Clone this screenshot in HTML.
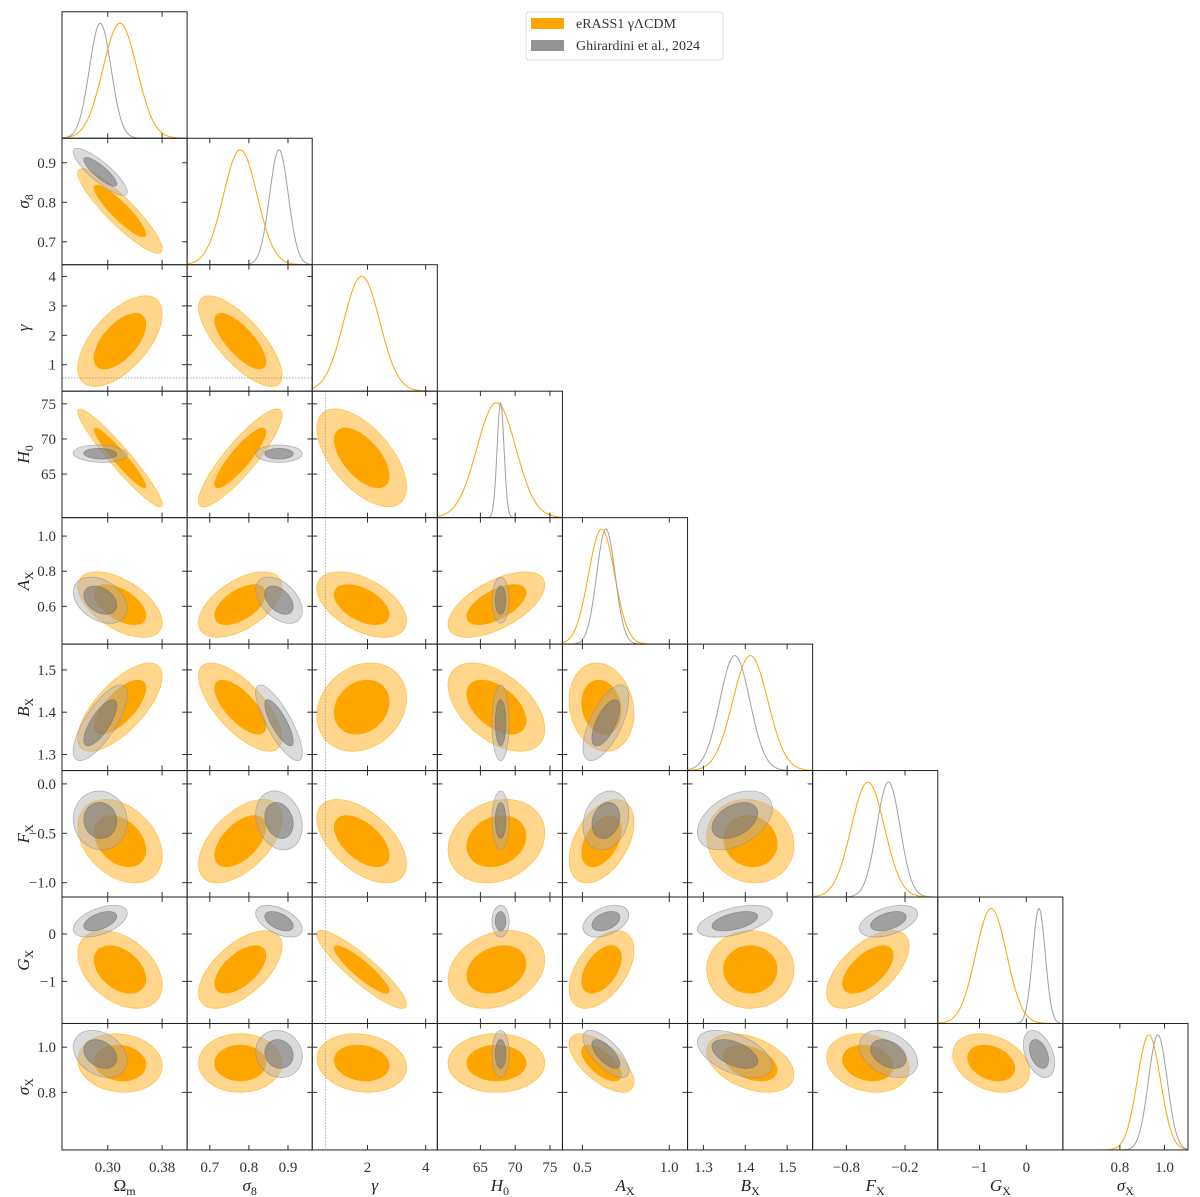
<!DOCTYPE html>
<html><head><meta charset="utf-8"><style>
html,body{margin:0;padding:0;background:#fff;}
svg{display:block;font-family:"Liberation Serif","DejaVu Serif",serif;}
</style></head><body>
<svg id="chart" width="1200" height="1197" viewBox="0 0 1200 1197" xmlns="http://www.w3.org/2000/svg"></svg>
<script>
const paramNames = ['Om','s8','gamma','H0','AX','BX','FX','GX','sX'];
const rangeMin = [0.2327, 0.642, 0.1, 58.8, 0.385, 1.262, -1.145, -1.89, 0.545];
const rangeMax = [0.4168, 0.962, 4.4, 76.8, 1.105, 1.561, 0.135, 0.78, 1.105];
const meanOrange = [0.318, 0.778, 1.8, 67.3, 0.61, 1.412, -0.58, -0.75, 0.93];
const sdOrange = [0.025, 0.043, 0.62, 2.8, 0.075, 0.042, 0.17, 0.33, 0.052];
const meanGray = [0.289, 0.877, null, 67.9, 0.635, 1.375, -0.37, 0.27, 0.97];
const sdGray = [0.016, 0.024, null, 0.5, 0.053, 0.036, 0.12, 0.135, 0.042];
const corrOrange = [[],[-0.9],[0.6,-0.75],[-0.95,0.88,-0.6],[-0.55,0.55,-0.5,0.6],[0.7,-0.7,0.2,-0.5,-0.15],[-0.35,0.55,-0.55,0.2,0.45,-0.1],[-0.4,0.6,-0.9,0.25,0.5,0.0,0.6],[-0.1,0.0,-0.15,0.0,-0.65,-0.4,-0.2,-0.3]];
const corrGray = [[],[-0.85],[null,null],[-0.1,0.0,null],[-0.35,-0.45,null,0.0],[0.75,-0.8,null,0.0,0.65],[-0.05,-0.2,null,0.0,0.2,0.4],[0.5,-0.5,null,0.0,0.4,0.5,0.45],[-0.3,-0.1,null,0.0,-0.7,-0.5,-0.35,-0.4]];
const xTickVals = [[0.30,0.38],[0.7,0.8,0.9],[2,4],[65,70,75],[0.5,1.0],[1.3,1.4,1.5],[-0.8,-0.2],[-1,0],[0.8,1.0]];
const xTickLabels = [['0.30','0.38'],['0.7','0.8','0.9'],['2','4'],['65','70','75'],['0.5','1.0'],['1.3','1.4','1.5'],['\u22120.8','\u22120.2'],['\u22121','0'],['0.8','1.0']];
const yTickVals = [[],[0.7,0.8,0.9],[1,2,3,4],[65,70,75],[0.6,0.8,1.0],[1.3,1.4,1.5],[-1.0,-0.5,0.0],[-1,0],[0.8,1.0]];
const yTickLabels = [[],['0.7','0.8','0.9'],['1','2','3','4'],['65','70','75'],['0.6','0.8','1.0'],['1.3','1.4','1.5'],['\u22121.0','\u22120.5','0.0'],['\u22121','0'],['0.8','1.0']];
const gammaFixed = 0.55;

const NS='http://www.w3.org/2000/svg';
const svg=document.getElementById('chart');
const L=62, T=11.8, PW=125.11, PH=126.46, N=9;
function mk(tag,attrs,parent){const e=document.createElementNS(NS,tag);for(const k in attrs)e.setAttribute(k,attrs[k]);(parent||svg).appendChild(e);return e;}
function xs(i,v){return L+i*PW+(v-rangeMin[i])/(rangeMax[i]-rangeMin[i])*PW;}
function ys(r,j,v){return T+(r+1)*PH-(v-rangeMin[j])/(rangeMax[j]-rangeMin[j])*PH;}

const defs=mk('defs',{});
const K1=Math.sqrt(2.30), K2=Math.sqrt(6.17);
function ellipse(g,i,j,mean,sd,rho,k,fill,stroke,name){
  const pxX=PW/(rangeMax[i]-rangeMin[i]), pxY=PH/(rangeMax[j]-rangeMin[j]);
  const sx=sd[i]*pxX, sy=sd[j]*pxY;
  const a=sx*sx, c=sy*sy, b=-rho*sx*sy;
  const tr=(a+c)/2, d=Math.sqrt(((a-c)/2)**2+b*b);
  const l1=tr+d, l2=Math.max(tr-d,0.01);
  const th=0.5*Math.atan2(2*b,a-c)*180/Math.PI;
  const cx=xs(i,mean[i]), cy=ys(j,j,mean[j]);
  const e=mk('ellipse',{cx:cx,cy:cy,rx:k*Math.sqrt(l1),ry:k*Math.sqrt(l2),transform:`rotate(${th} ${cx} ${cy})`,fill:fill,stroke:stroke,'stroke-width':0.8},g);
  
  
}

for(let r=0;r<N;r++){
  for(let c=0;c<=r;c++){
    const x0=L+c*PW, y0=T+r*PH;
    const cp=mk('clipPath',{id:`cp${r}_${c}`},defs);
    mk('rect',{x:x0,y:y0,width:PW,height:PH},cp);
    const g=mk('g',{'clip-path':`url(#cp${r}_${c})`});
    
    
    if(r===c){
      const curves=[[meanOrange,sdOrange,'#ffa500','orange'],[meanGray,sdGray,'#a0a0a0','gray']];
      for(const [m,s,col,nm] of curves){
        if(m[c]===null) continue;
        let pts=[];
        for(let t=0;t<=200;t++){
          const v=rangeMin[c]+(rangeMax[c]-rangeMin[c])*t/200;
          const p=Math.exp(-0.5*((v-m[c])/s[c])**2);
          pts.push(xs(c,v).toFixed(2)+','+(y0+PH-p*PH/1.1).toFixed(2));
        }
        const pl=mk('polyline',{points:pts.join(' '),fill:'none',stroke:col,'stroke-width':1},g);
        
        
      }
    } else {
      const ro=corrOrange[r][c];
      ellipse(g,c,r,meanOrange,sdOrange,ro,K2,'#ffd68c','#ffc24d','contour95-orange');
      ellipse(g,c,r,meanOrange,sdOrange,ro,K1,'#ffa500','#ffa500','contour68-orange');
      const rg=corrGray[r][c];
      if(rg!==null && meanGray[c]!==null && meanGray[r]!==null){
        ellipse(g,c,r,meanGray,sdGray,rg,K2,'rgba(175,175,175,0.45)','rgba(140,140,140,0.6)','contour95-gray');
        ellipse(g,c,r,meanGray,sdGray,rg,K1,'rgba(120,120,120,0.6)','rgba(110,110,110,0.6)','contour68-gray');
      }
      if(c===2){
        const ln=mk('line',{x1:xs(2,gammaFixed),x2:xs(2,gammaFixed),y1:y0,y2:y0+PH,stroke:'#999','stroke-width':0.8,'stroke-dasharray':'1.5,1.5'},g);
        
        
      }
      if(r===2){
        const ln=mk('line',{x1:x0,x2:x0+PW,y1:ys(2,2,gammaFixed),y2:ys(2,2,gammaFixed),stroke:'#999','stroke-width':0.8,'stroke-dasharray':'1.5,1.5'},g);
        
        
      }
    }
    for(const v of xTickVals[c]){
      const x=xs(c,v);
      mk('line',{x1:x,x2:x,y1:y0+PH,y2:y0+PH-5,stroke:'#333','stroke-width':1});
      mk('line',{x1:x,x2:x,y1:y0,y2:y0+5,stroke:'#333','stroke-width':1});
    }
    if(r!==c){
      for(const v of yTickVals[r]){
        const y=ys(r,r,v);
        mk('line',{x1:x0,x2:x0+5,y1:y,y2:y,stroke:'#333','stroke-width':1});
        mk('line',{x1:x0+PW,x2:x0+PW-5,y1:y,y2:y,stroke:'#333','stroke-width':1});
      }
    }
    const fr=mk('rect',{x:x0,y:y0,width:PW,height:PH,fill:'none',stroke:'#222','stroke-width':1});
    
    
  }
}
for(let c=0;c<N;c++){
  xTickVals[c].forEach((v,k)=>{
    const t=mk('text',{x:xs(c,v),y:1172,'text-anchor':'middle','font-size':15,fill:'#333'});
    t.textContent=xTickLabels[c][k];
    
    
  });
}
for(let r=1;r<N;r++){
  yTickVals[r].forEach((v,k)=>{
    const t=mk('text',{x:56,y:ys(r,r,v)+5,'text-anchor':'end','font-size':15,fill:'#333'});
    t.textContent=yTickLabels[r][k];
    
    
  });
}
const labMain=['\u03A9','\u03C3','\u03B3','H','A','B','F','G','\u03C3'];
const labSub=['m','8','','0','X','X','X','X','X'];
const labItalic=[false,true,true,true,true,true,true,true,true];
function label(parent,i){
  const a=mk('tspan',{'font-style':labItalic[i]?'italic':'normal'},parent); a.textContent=labMain[i];
  if(labSub[i]){const s=mk('tspan',{'font-size':12,dy:4},parent); s.textContent=labSub[i];}
}
for(let c=0;c<N;c++){
  const t=mk('text',{x:L+c*PW+PW/2,y:1191,'text-anchor':'middle','font-size':17,fill:'#222'});
  
  
  label(t,c);
}
for(let r=1;r<N;r++){
  const cy=T+r*PH+PH/2;
  const t=mk('text',{x:0,y:0,'text-anchor':'middle','font-size':17,fill:'#222',transform:`translate(29 ${cy}) rotate(-90)`});
  
  
  label(t,r);
}
const lg=mk('g',{});


mk('rect',{x:526,y:12,width:197,height:48,rx:3,fill:'#fff',stroke:'#ddd','stroke-width':1},lg);
const p1=mk('rect',{x:531,y:18,width:33,height:11,fill:'#ffa500'},lg);


const p2=mk('rect',{x:531,y:40,width:33,height:11,fill:'#939393'},lg);


const t1=mk('text',{x:576,y:28,'font-size':14,fill:'#333'},lg);
t1.textContent='eRASS1 \u03B3\u039BCDM';


const t2=mk('text',{x:576,y:50,'font-size':14,fill:'#333'},lg);
t2.textContent='Ghirardini et al., 2024';


</script>
</body></html>
